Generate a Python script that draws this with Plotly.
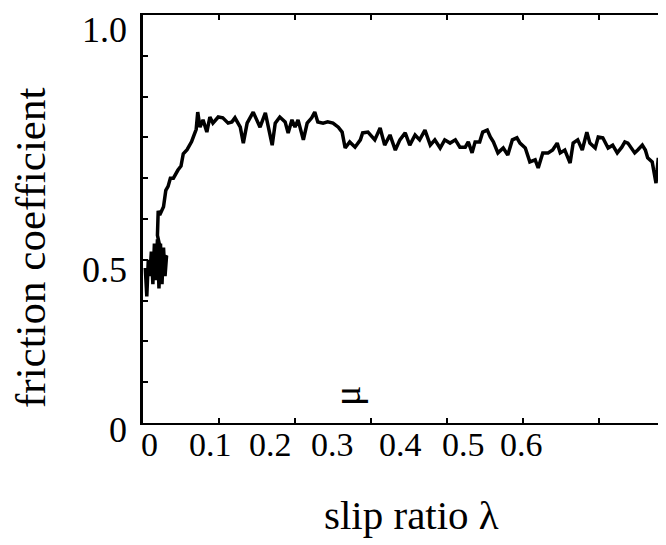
import plotly.graph_objects as go

# slip ratio (lambda) and friction coefficient (mu)
slip_ratio = [
    0.003, 0.005, 0.007, 0.009, 0.011, 0.013, 0.015, 0.017, 0.019, 0.021,
    0.023, 0.025, 0.027, 0.029, 0.031, 0.026, 0.019, 0.020, 0.022, 0.027,
    0.030, 0.033, 0.036, 0.040, 0.046, 0.050, 0.053, 0.058, 0.064, 0.066,
    0.068, 0.070,
    0.072, 0.075, 0.079, 0.084, 0.088, 0.092, 0.099, 0.105, 0.112, 0.117,
    0.121, 0.128, 0.132, 0.137, 0.145, 0.150, 0.154, 0.161, 0.164, 0.170,
    0.174, 0.180, 0.187, 0.191, 0.196, 0.200, 0.204, 0.211, 0.216, 0.222,
    0.226, 0.230, 0.237, 0.243, 0.250, 0.257, 0.262, 0.266, 0.272, 0.279,
    0.286, 0.289, 0.296,
    0.305, 0.312, 0.318, 0.325, 0.332, 0.338, 0.345, 0.351, 0.358, 0.364,
    0.371, 0.378, 0.384, 0.391, 0.397, 0.404,
    0.411, 0.417, 0.424, 0.428, 0.433, 0.437, 0.443, 0.447, 0.453, 0.457,
    0.461, 0.467, 0.474, 0.480, 0.486, 0.492, 0.496, 0.503, 0.509, 0.516,
    0.520, 0.526, 0.533, 0.539, 0.545, 0.549, 0.555, 0.562, 0.566, 0.572,
    0.578, 0.584, 0.588, 0.595, 0.599, 0.605, 0.612, 0.618, 0.624, 0.630,
    0.634, 0.638, 0.643, 0.647, 0.651, 0.657, 0.661, 0.664, 0.670, 0.672,
    0.675, 0.678, 0.679,
]
friction = [
    0.38, 0.31, 0.40, 0.36, 0.42, 0.34, 0.44, 0.35, 0.45, 0.33,
    0.44, 0.34, 0.43, 0.36, 0.41, 0.40, 0.46, 0.52, 0.51, 0.53,
    0.57, 0.58, 0.60, 0.60, 0.62, 0.63, 0.66, 0.67, 0.69, 0.70,
    0.713, 0.72,
    0.762, 0.725, 0.743, 0.713, 0.750, 0.735, 0.750, 0.748, 0.735, 0.738,
    0.748, 0.725, 0.686, 0.735, 0.762, 0.743, 0.725, 0.760, 0.735, 0.681,
    0.735, 0.750, 0.738, 0.711, 0.743, 0.725, 0.743, 0.694, 0.735, 0.748,
    0.762, 0.738, 0.735, 0.738, 0.735, 0.725, 0.713, 0.674, 0.689, 0.676,
    0.694, 0.711, 0.713,
    0.694, 0.723, 0.681, 0.706, 0.669, 0.694, 0.711, 0.681, 0.706, 0.694,
    0.718, 0.681, 0.694, 0.674, 0.694, 0.686,
    0.694, 0.676, 0.676, 0.689, 0.662, 0.689, 0.689, 0.713, 0.718, 0.701,
    0.689, 0.662, 0.674, 0.657, 0.694, 0.699, 0.686, 0.674, 0.640, 0.645,
    0.625, 0.662, 0.662, 0.669, 0.686, 0.662, 0.669, 0.637, 0.686, 0.694,
    0.669, 0.713, 0.686, 0.674, 0.701, 0.699, 0.674, 0.681, 0.662, 0.676,
    0.689, 0.686, 0.674, 0.662, 0.669, 0.681, 0.669, 0.650, 0.640, 0.620,
    0.588, 0.650, 0.603,
]

x_tick_labels = ["0", "0.1", "0.2", "0.3", "0.4", "0.5", "0.6"]
y_tick_labels = ["1.0", "0.5", "0"]
x_title = "slip ratio λ"
y_title = "friction coefficient"
mu_label = "μ"

# the page body has an 8px margin; figure coordinates = screen coordinates - 8
OFF = 8
W, H = 666 - OFF, 545 - OFF
L, T = 143 - OFF, 15 - OFF
PW = W - L
PH = (423 - OFF) - T
B = H - T - PH

def px(xs):
    return (xs - OFF - L) / PW

def py(ys):
    return (T + PH - (ys - OFF)) / PH

font_family = "Liberation Serif, Times New Roman, serif"

fig = go.Figure()
fig.add_trace(go.Scatter(
    x=slip_ratio, y=friction, mode="lines",
    line=dict(color="black", width=3.5),
    showlegend=False, hoverinfo="skip",
))

annotations = []
for txt, yc in zip(y_tick_labels, [30, 270, 430]):
    annotations.append(dict(text=txt, xref="paper", yref="paper",
                            x=px(129), y=py(yc), xanchor="right", yanchor="middle",
                            showarrow=False, font=dict(size=36, color="black", family=font_family)))
for txt, xc in zip(x_tick_labels, [149, 210, 270, 332, 400, 463, 521]):
    annotations.append(dict(text=txt, xref="paper", yref="paper",
                            x=px(xc), y=py(444), xanchor="center", yanchor="middle",
                            showarrow=False, font=dict(size=34, color="black", family=font_family)))
annotations.append(dict(text=x_title, xref="paper", yref="paper", x=px(411), y=py(515),
                        xanchor="center", yanchor="middle", showarrow=False,
                        font=dict(size=41, color="black", family=font_family)))
annotations.append(dict(text=y_title, xref="paper", yref="paper", x=px(30), y=py(248),
                        xanchor="center", yanchor="middle", showarrow=False, textangle=-90,
                        font=dict(size=43, color="black", family=font_family)))
annotations.append(dict(text=mu_label, xref="paper", yref="paper", x=px(347), y=py(396),
                        xanchor="center", yanchor="middle", showarrow=False, textangle=-90,
                        font=dict(size=38, color="black", family=font_family)))

fig.update_layout(
    width=W, height=H,
    margin=dict(l=L, r=0, t=T, b=B, pad=0),
    paper_bgcolor="white", plot_bgcolor="white",
    annotations=annotations,
    xaxis=dict(range=[0, PW / 760], showgrid=False, zeroline=False,
               showline=True, linecolor="black", linewidth=2.2, mirror="ticks",
               ticks="inside", ticklen=5, tickwidth=2, tickcolor="black",
               tick0=0, dtick=0.1, showticklabels=False),
    yaxis=dict(range=[0, 1.0], showgrid=False, zeroline=False,
               showline=True, linecolor="black", linewidth=3,
               ticks="inside", ticklen=5, tickwidth=2, tickcolor="black",
               tick0=0, dtick=0.1, showticklabels=False),
)

fig.write_html("out.html")
